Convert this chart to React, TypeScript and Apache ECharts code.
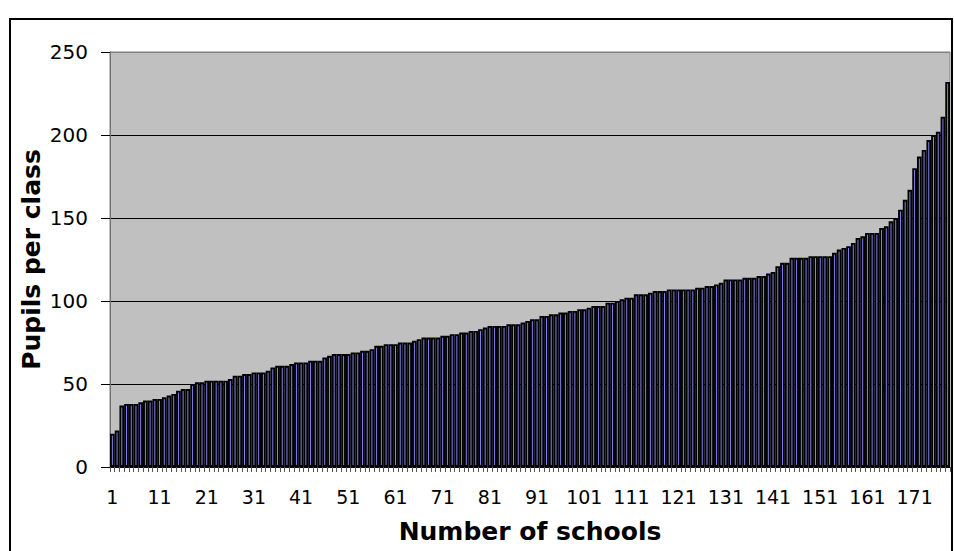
import React, { useEffect, useRef } from 'react';
import * as echarts from 'echarts';

// Pupils per class for each school, sorted ascending
const pupilsPerClass: number[] = [
  20, 22, 37, 38, 38, 38, 39, 40, 40, 41,
  41, 42, 43, 44, 46, 47, 47, 50, 51, 51,
  52, 52, 52, 52, 52, 53, 55, 55, 56, 56,
  57, 57, 57, 58, 60, 61, 61, 61, 62, 63,
  63, 63, 64, 64, 64, 66, 67, 68, 68, 68,
  68, 69, 69, 70, 70, 71, 73, 73, 74, 74,
  74, 75, 75, 75, 76, 77, 78, 78, 78, 78,
  79, 79, 80, 80, 81, 81, 82, 82, 83, 84,
  85, 85, 85, 85, 86, 86, 86, 87, 88, 89,
  89, 91, 91, 92, 92, 93, 93, 94, 94, 95,
  95, 96, 97, 97, 97, 99, 99, 100, 101, 102,
  102, 104, 104, 104, 105, 106, 106, 106, 107, 107,
  107, 107, 107, 107, 108, 108, 109, 109, 110, 111,
  113, 113, 113, 113, 114, 114, 114, 115, 115, 116.5,
  117.5, 121, 123, 123, 126, 126, 126, 126, 127, 127,
  127, 127, 127, 129, 131, 132, 133, 135, 138, 139,
  141, 141, 141, 144, 145, 148, 150, 155, 161, 167,
  180, 187, 191, 197, 200, 202, 211, 232,
];

// School numbers along the category axis
const schoolNumbers: string[] = pupilsPerClass.map((_, i) => String(i + 1));

const yMin = 0;
const yMax = 250;
const yStep = 50;
const xLabelEvery = 10;

export default function App() {
  const ref = useRef<HTMLDivElement>(null);

  useEffect(() => {
    if (!ref.current) return;
    const chart = echarts.init(ref.current, null, { renderer: 'svg' });
    chart.setOption({
      animation: false,
      backgroundColor: '#ffffff',
      textStyle: { fontFamily: 'DejaVu Sans', color: '#000' },
      grid: {
        left: 110,
        right: 4,
        top: 52,
        bottom: 84,
        show: true,
        backgroundColor: '#c0c0c0',
        borderColor: '#808080',
        borderWidth: 1,
      },
      xAxis: {
        type: 'category',
        data: schoolNumbers,
        name: 'Number of schools',
        nameLocation: 'middle',
        nameGap: 52,
        nameMoveOverlap: false,
        nameTextStyle: { fontSize: 25, fontWeight: 'bold', color: '#000', fontFamily: 'DejaVu Sans' },
        axisLine: { lineStyle: { color: '#000', width: 1 } },
        axisTick: { show: true, interval: 0, length: 5, lineStyle: { color: '#555' } },
        axisLabel: { interval: xLabelEvery - 1, margin: 20, fontSize: 19, color: '#000' },
        splitLine: { show: false },
      },
      yAxis: {
        type: 'value',
        min: yMin,
        max: yMax,
        interval: yStep,
        name: 'Pupils per class',
        nameLocation: 'middle',
        nameGap: 66,
        nameMoveOverlap: false,
        nameTextStyle: { fontSize: 25, fontWeight: 'bold', color: '#000', fontFamily: 'DejaVu Sans' },
        axisLine: { show: true, lineStyle: { color: '#707070', width: 1 } },
        axisTick: { show: true, length: 9, lineStyle: { color: '#000' } },
        axisLabel: { margin: 22, fontSize: 20, color: '#000' },
        splitLine: {
          show: true,
          lineStyle: { color: ['#000', '#000', '#000', '#000', '#000', '#808080'], width: 1 },
        },
      },
      series: [
        {
          type: 'bar',
          data: pupilsPerClass,
          barCategoryGap: '0%',
          itemStyle: { color: '#8c8cff', borderColor: '#000', borderWidth: 1.9 },
        },
      ],
      graphic: [
        {
          type: 'rect',
          silent: true,
          shape: { x: 10, y: 19, width: 942, height: 600 },
          style: { fill: 'none', stroke: '#000', lineWidth: 2 },
        },
      ],
    });
    return () => chart.dispose();
  }, []);

  return (
    <div
      ref={ref}
      style={{ position: 'absolute', left: 0, top: 0, width: 954, height: 551 }}
    />
  );
}
